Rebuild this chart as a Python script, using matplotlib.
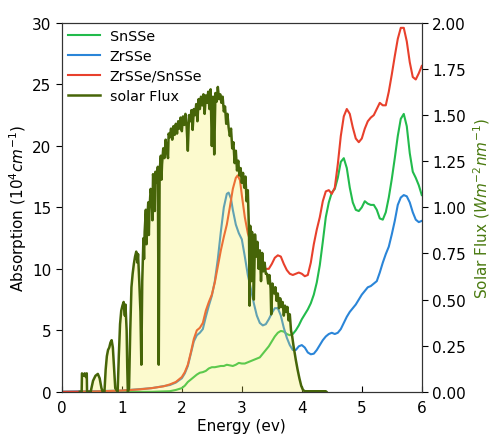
import numpy as np
import matplotlib
matplotlib.use('Agg')
import matplotlib.pyplot as plt

# absorption spectra (10^4 cm^-1) vs energy (eV)
e_red = [0.0, 0.5, 1.0, 1.3, 1.5, 1.7, 1.8, 1.9, 2.0, 2.05, 2.1, 2.15, 2.2, 2.25, 2.3, 2.35,
         2.4, 2.45, 2.5, 2.55, 2.6, 2.65, 2.7, 2.75, 2.8, 2.85, 2.9, 2.93, 2.97, 3.0, 3.05,
         3.1, 3.15, 3.2, 3.25, 3.3, 3.35, 3.4, 3.45, 3.5, 3.55, 3.6, 3.65, 3.7, 3.75, 3.8,
         3.85, 3.9, 3.95, 4.0, 4.05, 4.1, 4.15, 4.2, 4.25, 4.3, 4.35, 4.4, 4.45, 4.5, 4.55,
         4.6, 4.65, 4.7, 4.75, 4.8, 4.85, 4.9, 4.95, 5.0, 5.05, 5.1, 5.15, 5.2, 5.25, 5.3,
         5.35, 5.4, 5.45, 5.5, 5.55, 5.6, 5.65, 5.7, 5.75, 5.8, 5.85, 5.9, 5.95, 6.0]
a_red = [0.0, 0.02, 0.1, 0.2, 0.3, 0.45, 0.6, 0.8, 1.2, 1.6, 2.2, 3.2, 4.3, 5.0, 5.2, 5.6,
         6.6, 7.3, 7.9, 8.9, 10.2, 11.5, 12.6, 13.6, 15.0, 16.5, 17.4, 17.6, 17.2, 16.0, 14.2,
         12.9, 12.1, 11.6, 11.1, 10.6, 10.2, 10.0, 10.0, 10.4, 10.9, 11.1, 11.0, 10.4, 9.9, 9.6,
         9.5, 9.6, 9.7, 9.6, 9.4, 9.5, 10.5, 12.0, 13.2, 14.2, 15.5, 16.3, 16.4, 16.1, 16.6,
         18.5, 20.8, 22.4, 23.0, 22.6, 21.5, 20.6, 20.3, 20.6, 21.4, 22.0, 22.3, 22.5, 23.0, 23.5,
         23.3, 23.3, 24.4, 25.8, 27.3, 28.7, 29.6, 29.6, 28.5, 26.8, 25.6, 25.4, 25.9, 26.5]

e_blue = [0.0, 1.0, 1.5, 1.8, 1.9, 2.0, 2.05, 2.1, 2.15, 2.2, 2.25, 2.3, 2.35, 2.4, 2.45,
          2.5, 2.55, 2.6, 2.65, 2.7, 2.75, 2.78, 2.82, 2.85, 2.9, 2.95, 3.0, 3.05, 3.1, 3.15,
          3.2, 3.25, 3.3, 3.35, 3.4, 3.45, 3.5, 3.55, 3.6, 3.65, 3.7, 3.75, 3.8, 3.85, 3.9,
          3.95, 4.0, 4.05, 4.1, 4.15, 4.2, 4.25, 4.3, 4.35, 4.4, 4.45, 4.5, 4.55, 4.6, 4.65,
          4.7, 4.75, 4.8, 4.85, 4.9, 4.95, 5.0, 5.05, 5.1, 5.15, 5.2, 5.25, 5.3, 5.35, 5.4,
          5.45, 5.5, 5.55, 5.6, 5.65, 5.7, 5.75, 5.8, 5.85, 5.9, 5.95, 6.0]
a_blue = [0.0, 0.1, 0.3, 0.55, 0.75, 1.1, 1.5, 2.1, 3.1, 4.1, 4.6, 4.8, 5.1, 6.1, 7.0,
          7.8, 9.0, 10.8, 13.0, 15.0, 16.1, 16.2, 15.7, 14.8, 13.6, 12.9, 12.4, 11.0, 9.5, 8.4,
          7.2, 6.2, 5.6, 5.4, 5.5, 5.9, 6.4, 6.8, 6.8, 6.2, 5.2, 4.4, 3.8, 3.4, 3.4,
          3.7, 3.8, 3.6, 3.2, 3.05, 3.1, 3.4, 3.8, 4.2, 4.5, 4.7, 4.8, 4.7, 4.8, 5.1,
          5.6, 6.1, 6.5, 6.8, 7.1, 7.5, 7.9, 8.2, 8.5, 8.6, 8.8, 9.0, 9.7, 10.5, 11.2,
          11.8, 12.8, 13.9, 15.2, 15.8, 16.0, 15.9, 15.4, 14.6, 14.0, 13.8, 13.9]

e_green = [0.0, 1.5, 1.8, 1.9, 2.0, 2.05, 2.1, 2.15, 2.2, 2.25, 2.3, 2.35, 2.4, 2.45, 2.5,
           2.55, 2.6, 2.65, 2.7, 2.75, 2.8, 2.85, 2.9, 2.95, 3.0, 3.05, 3.1, 3.15, 3.2, 3.25,
           3.3, 3.35, 3.4, 3.45, 3.5, 3.55, 3.6, 3.65, 3.7, 3.75, 3.8, 3.85, 3.9, 3.95, 4.0,
           4.05, 4.1, 4.15, 4.2, 4.25, 4.3, 4.35, 4.4, 4.45, 4.5, 4.55, 4.6, 4.65, 4.7, 4.75,
           4.8, 4.85, 4.9, 4.95, 5.0, 5.05, 5.1, 5.15, 5.2, 5.25, 5.3, 5.35, 5.4, 5.45, 5.5,
           5.55, 5.6, 5.65, 5.7, 5.75, 5.8, 5.85, 5.9, 5.95, 6.0]
a_green = [0.0, 0.0, 0.05, 0.15, 0.3, 0.5, 0.8, 1.0, 1.2, 1.4, 1.55, 1.6, 1.7, 1.9, 2.0,
           2.0, 2.05, 2.1, 2.1, 2.2, 2.15, 2.1, 2.2, 2.35, 2.3, 2.3, 2.4, 2.5, 2.6, 2.7,
           2.8, 3.1, 3.4, 3.7, 4.1, 4.5, 4.8, 4.95, 4.9, 4.7, 4.6, 4.7, 5.0, 5.4, 5.9,
           6.3, 6.7, 7.2, 7.9, 8.9, 10.3, 12.2, 14.2, 15.4, 16.2, 16.5, 17.4, 18.7, 19.0, 18.2,
           16.6, 15.4, 14.8, 14.7, 15.0, 15.5, 15.3, 15.2, 15.2, 14.8, 14.1, 14.0, 14.6, 15.8, 17.3,
           19.0, 20.8, 22.2, 22.6, 21.6, 19.4, 17.9, 17.4, 16.8, 16.0]

# solar flux (W m^-2 nm^-1) vs energy (eV)
e_sun = [0.30, 0.33, 0.335, 0.36, 0.38, 0.40, 0.415, 0.42, 0.48, 0.52, 0.56, 0.60, 0.63, 0.66,
         0.68, 0.71, 0.73, 0.75, 0.77, 0.79, 0.81, 0.83, 0.85, 0.87, 0.89, 0.93, 0.95, 0.97,
         0.99, 1.01, 1.03, 1.05, 1.06, 1.08, 1.09, 1.10, 1.12, 1.14, 1.16, 1.18, 1.20, 1.22,
         1.24, 1.26, 1.27, 1.29, 1.31, 1.325, 1.34, 1.36, 1.37, 1.38, 1.40, 1.41, 1.42, 1.44,
         1.45, 1.46, 1.48, 1.50, 1.51, 1.52, 1.54, 1.55, 1.56, 1.58, 1.60, 1.615, 1.63, 1.65,
         1.66, 1.67, 1.69, 1.71, 1.73, 1.75, 1.77, 1.78, 1.80, 1.82, 1.84, 1.86, 1.88, 1.90,
         1.92, 1.94, 1.96, 1.98, 2.00, 2.02, 2.04, 2.06, 2.08, 2.10, 2.12, 2.14, 2.16, 2.18,
         2.20, 2.22, 2.24, 2.26, 2.28, 2.30, 2.32, 2.34, 2.36, 2.38, 2.40, 2.42, 2.44, 2.46,
         2.48, 2.50, 2.52, 2.54, 2.56, 2.58, 2.60, 2.62, 2.64, 2.66, 2.68, 2.70, 2.72, 2.74,
         2.76, 2.78, 2.80, 2.82, 2.84, 2.86, 2.88, 2.90, 2.92, 2.94, 2.96, 2.98, 3.00, 3.02,
         3.04, 3.06, 3.08, 3.10, 3.12, 3.13, 3.14, 3.16, 3.17, 3.19, 3.20, 3.22, 3.24, 3.26,
         3.28, 3.30, 3.32, 3.34, 3.36, 3.38, 3.40, 3.42, 3.44, 3.46, 3.48, 3.49, 3.51, 3.54,
         3.56, 3.58, 3.60, 3.62, 3.64, 3.66, 3.68, 3.70, 3.72, 3.74, 3.76, 3.78, 3.80, 3.82,
         3.84, 3.86, 3.88, 3.90, 3.93, 3.96, 3.99, 4.02, 4.05, 4.40, 4.41]
f_sun = [0.0, 0.0, 0.100, 0.087, 0.100, 0.080, 0.100, 0.0, 0.0, 0.060, 0.087, 0.097, 0.073, 0.020,
         0.0, 0.0, 0.120, 0.193, 0.227, 0.240, 0.267, 0.280, 0.240, 0.133, 0.020, 0.0, 0.200, 0.367,
         0.440, 0.467, 0.487, 0.413, 0.473, 0.333, 0.133, 0.0, 0.020, 0.333, 0.567, 0.640, 0.693, 0.733,
         0.760, 0.700, 0.747, 0.600, 0.433, 0.147, 0.600, 0.833, 0.720, 0.867, 0.987, 0.800, 0.900, 1.027,
         0.850, 0.987, 1.100, 1.047, 0.930, 1.180, 1.120, 0.980, 1.193, 1.133, 1.220, 0.147, 1.200, 1.280,
         1.150, 1.233, 1.320, 1.267, 1.367, 1.307, 1.267, 1.400, 1.380, 1.427, 1.367, 1.440, 1.393, 1.453,
         1.400, 1.467, 1.427, 1.487, 1.413, 1.493, 1.447, 1.507, 1.440, 1.307, 1.500, 1.467, 1.527, 1.420,
         1.533, 1.500, 1.560, 1.467, 1.587, 1.533, 1.600, 1.553, 1.613, 1.507, 1.607, 1.567, 1.627, 1.533,
         1.640, 1.333, 1.600, 1.287, 1.620, 1.573, 1.653, 1.587, 1.613, 1.567, 1.600, 1.520, 1.547, 1.453,
         1.507, 1.433, 1.387, 1.427, 1.320, 1.353, 1.240, 1.307, 1.200, 1.253, 1.173, 1.213, 1.133, 1.187,
         1.107, 1.167, 1.033, 1.093, 0.867, 0.467, 0.900, 0.600, 0.867, 0.800, 0.500, 0.853, 0.733, 0.813,
         0.667, 0.767, 0.600, 0.753, 0.653, 0.700, 0.640, 0.640, 0.587, 0.633, 0.560, 0.420, 0.587, 0.533,
         0.567, 0.493, 0.533, 0.453, 0.507, 0.460, 0.487, 0.413, 0.467, 0.433, 0.460, 0.387, 0.420, 0.333,
         0.300, 0.253, 0.213, 0.173, 0.120, 0.073, 0.033, 0.010, 0.003, 0.003, 0.0]

c_green = '#22bb4c'
c_blue = '#2a85d8'
c_red = '#e8402c'
c_sun = '#466508'

plt.rcParams['font.family'] = 'DejaVu Sans'
fig = plt.figure(figsize=(4.91, 4.35), dpi=100)
ax = fig.add_axes([0.126, 0.097, 0.733, 0.848])
l1, = ax.plot(e_green, a_green, color=c_green, lw=1.5, label='SnSSe')
l2, = ax.plot(e_blue, a_blue, color=c_blue, lw=1.5, label='ZrSSe')
l3, = ax.plot(e_red, a_red, color=c_red, lw=1.5, label='ZrSSe/SnSSe')
ax.set_xlim(0, 6)
ax.set_ylim(0, 30)
ax.set_xlabel('Energy (ev)', fontsize=11, labelpad=2)
ax.set_ylabel('Absorption ($10^4cm^{-1}$)', fontsize=11, labelpad=2)
ax.tick_params(axis='x', direction='in', labelsize=11, length=4, pad=6)
ax.tick_params(axis='y', direction='out', labelsize=11, length=4)

ax2 = ax.twinx()
ax2.fill_between(e_sun, f_sun, color='#f6f050', alpha=0.28, lw=0)
l4, = ax2.plot(e_sun, f_sun, color=c_sun, lw=1.8, label='solar Flux')
ax2.set_ylim(0, 2)
ax2.set_yticks(np.arange(0, 2.01, 0.25))
ax2.set_yticklabels(['%.2f' % v for v in np.arange(0, 2.01, 0.25)])
ax2.tick_params(axis='y', direction='out', labelsize=11, length=4)
ax2.set_ylabel('Solar Flux ($Wm^{-2}nm^{-1}$)', fontsize=11, color='#4a7a10', labelpad=4)

for a in (ax, ax2):
    for s in a.spines.values():
        s.set_color('#333333')

ax2.legend(handles=[l1, l2, l3, l4], loc='upper left', frameon=False, fontsize=10.3,
           handlelength=2.2, handletextpad=0.7, borderaxespad=0.05, labelspacing=0.4)

fig.savefig('out.png', dpi=100)
